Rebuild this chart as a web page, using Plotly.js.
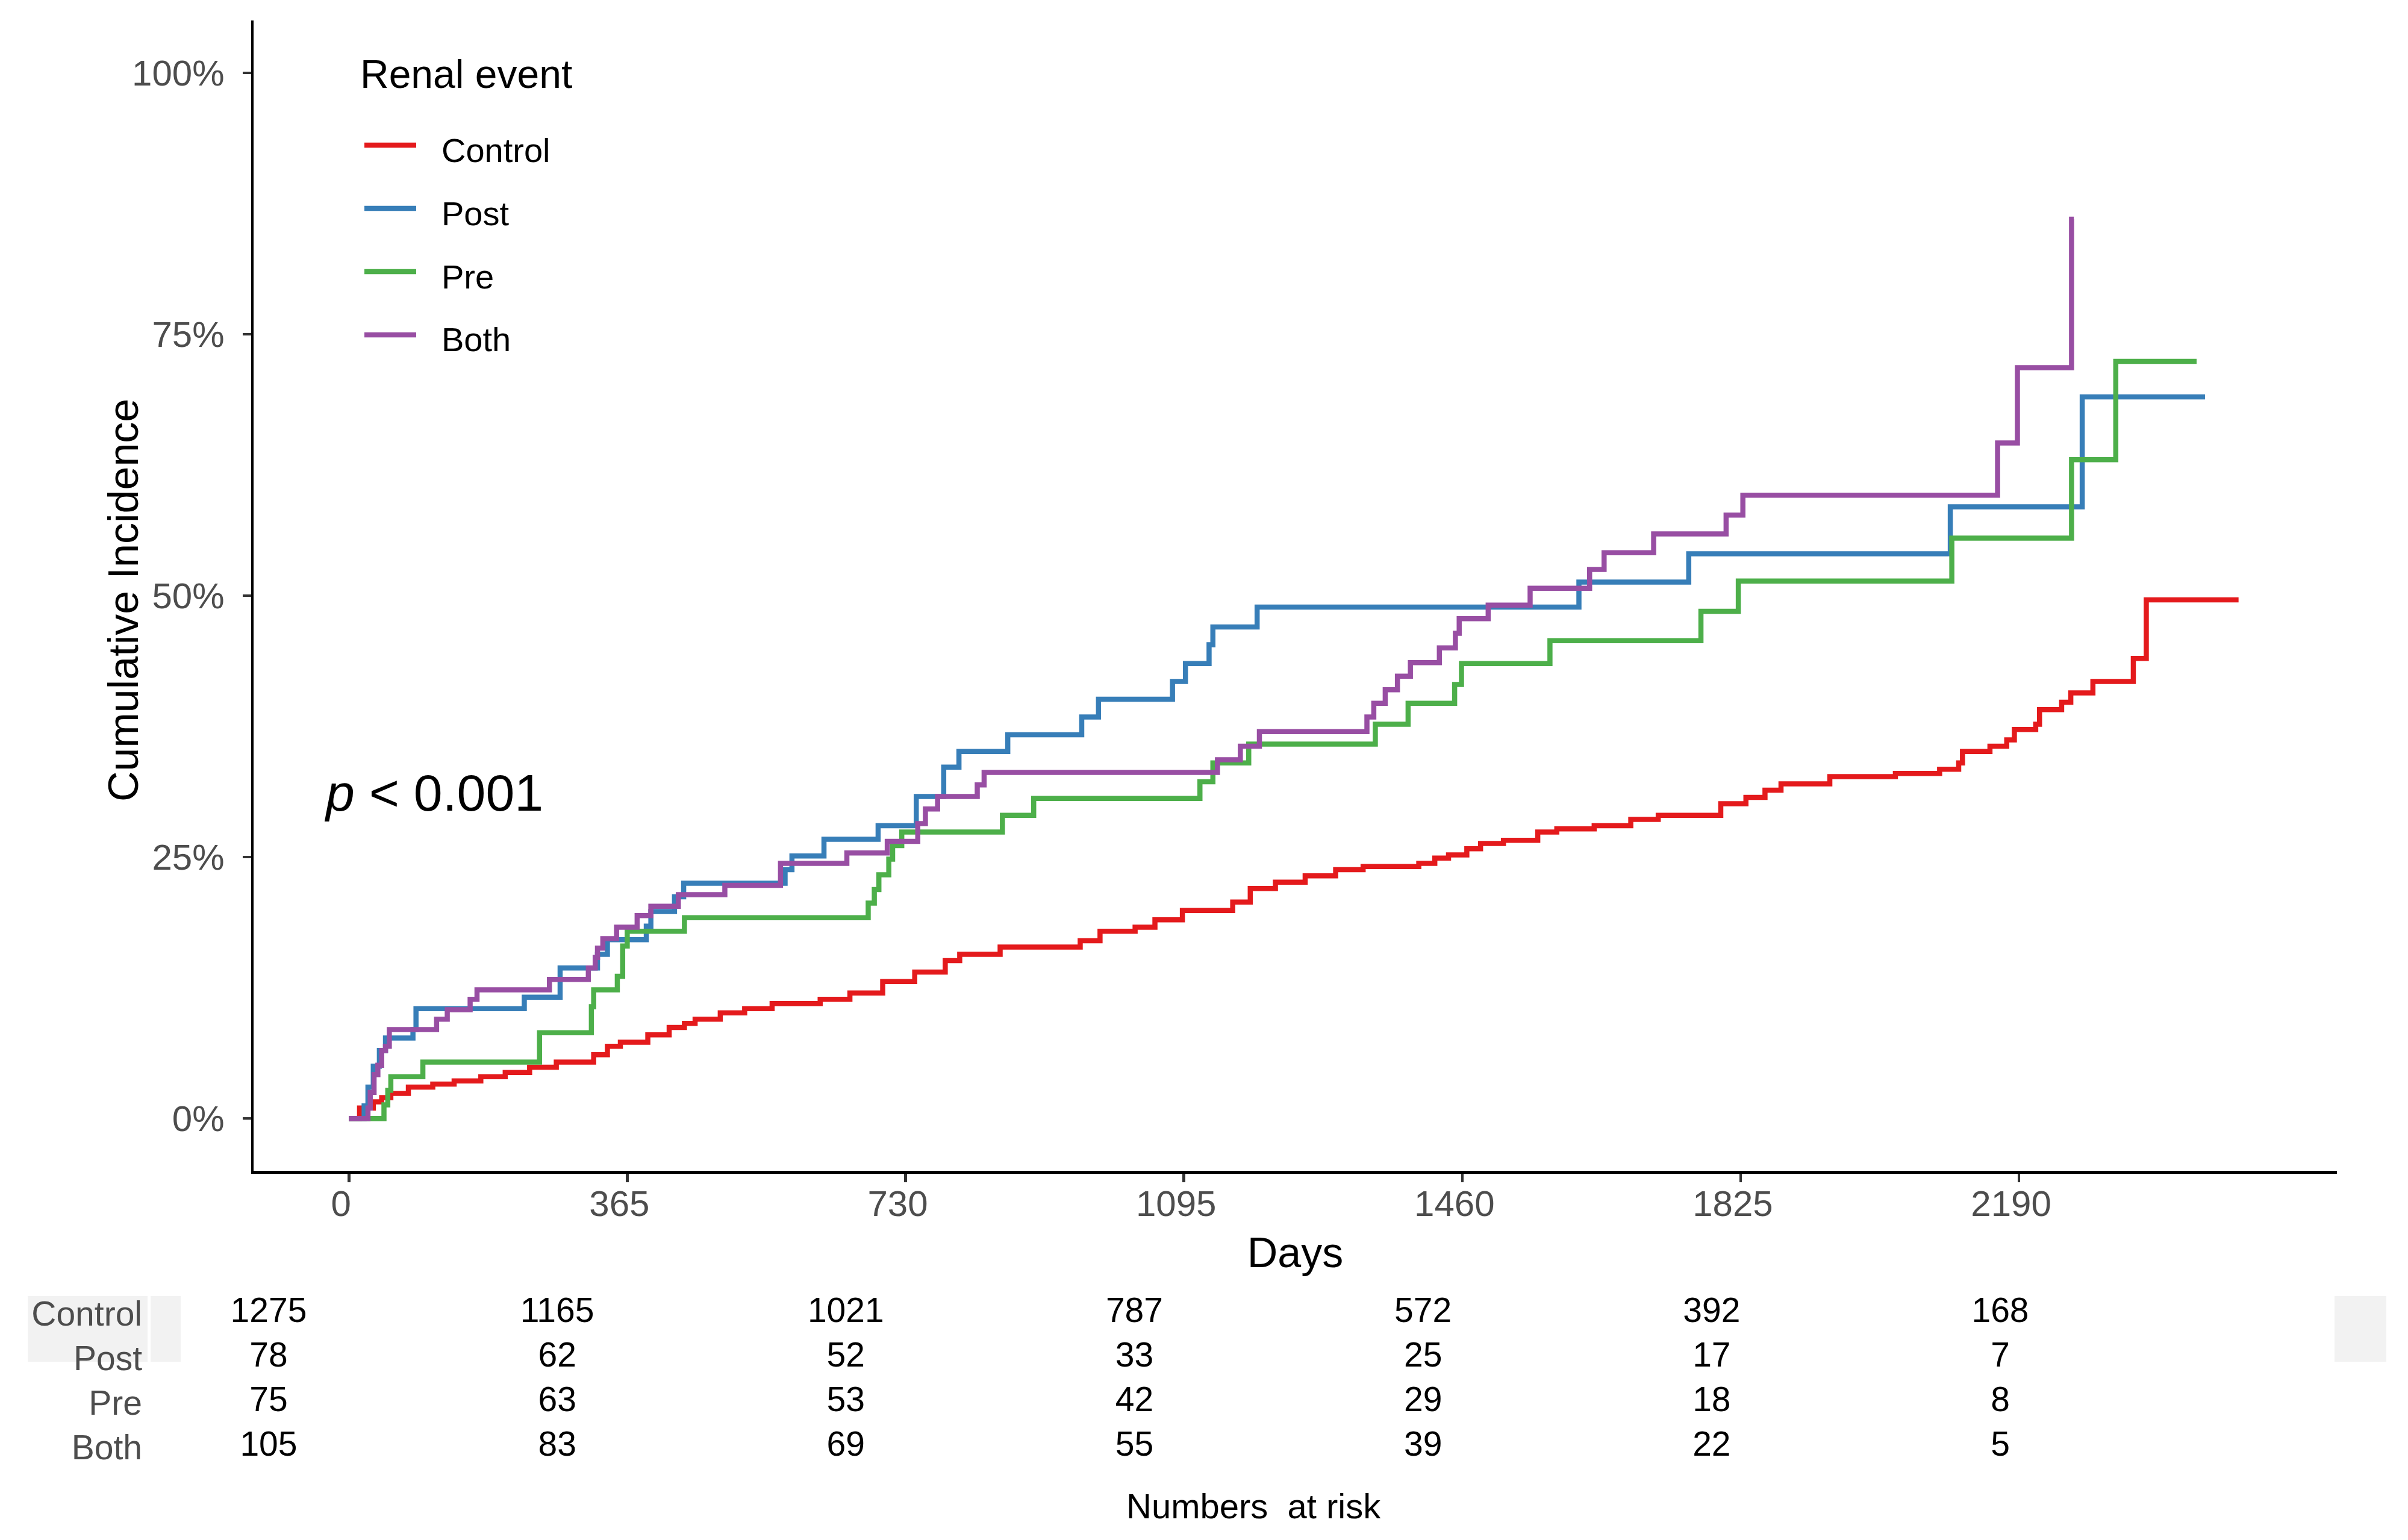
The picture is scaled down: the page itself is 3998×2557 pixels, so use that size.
<!DOCTYPE html>
<html><head><meta charset="utf-8">
<script src="https://cdn.plot.ly/plotly-3.0.1.min.js"></script>
<style>html,body{margin:0;padding:0;background:#fff}#chart{width:3998px;height:2557px}</style>
</head><body><div id="chart"></div>
<script>
// ---------- data ----------
const groups = ['Control', 'Post', 'Pre', 'Both'];
const colors = ['#E41A1C', '#377EB8', '#4DAF4A', '#984EA3'];

const controlDays = [0,14,32,43,55,78,110,138,173,205,237,272,321,339,356,392,420,440,454,487,519,555,618,657,700,742,782,801,854,959,985,1031,1057,1093,1159,1182,1215,1254,1294,1330,1403,1424,1442,1466,1484,1514,1559,1584,1633,1681,1717,1799,1832,1857,1878,1942,2028,2086,2111,2116,2152,2174,2184,2212,2217,2246,2258,2287,2340,2357,2478];
const controlInc = [0,0.010,0.016,0.020,0.024,0.030,0.033,0.036,0.040,0.044,0.049,0.054,0.061,0.069,0.073,0.080,0.087,0.091,0.095,0.101,0.105,0.110,0.114,0.120,0.131,0.140,0.151,0.157,0.164,0.170,0.179,0.183,0.190,0.199,0.207,0.220,0.226,0.232,0.238,0.241,0.244,0.249,0.252,0.258,0.263,0.266,0.274,0.277,0.280,0.286,0.290,0.301,0.307,0.314,0.320,0.327,0.330,0.334,0.340,0.351,0.356,0.362,0.372,0.377,0.391,0.398,0.407,0.418,0.440,0.496,0.496];

const postDays = [0,20,25,32,40,48,84,88,230,277,326,339,390,396,427,439,572,581,623,694,744,780,800,864,961,983,1080,1097,1128,1133,1191,1613,1757,2100,2273,2434];
const postInc = [0,0.012,0.030,0.050,0.065,0.077,0.085,0.105,0.116,0.144,0.157,0.171,0.184,0.198,0.212,0.225,0.238,0.251,0.267,0.280,0.308,0.336,0.351,0.367,0.384,0.401,0.418,0.435,0.453,0.470,0.489,0.513,0.540,0.585,0.690,0.690];

const preDays = [0,46,51,55,97,250,318,321,352,359,365,440,681,689,695,708,713,725,857,898,1116,1133,1180,1346,1389,1450,1459,1575,1773,1822,2102,2259,2317,2423];
const preInc = [0,0.013,0.027,0.040,0.054,0.082,0.107,0.123,0.136,0.165,0.179,0.192,0.206,0.219,0.233,0.248,0.261,0.274,0.290,0.306,0.322,0.340,0.358,0.377,0.397,0.415,0.435,0.457,0.485,0.514,0.555,0.630,0.724,0.724];

const bothDays = [0,25,28,33,38,43,48,53,115,129,159,168,263,314,323,326,333,351,378,396,432,493,566,653,706,746,756,772,824,833,1139,1169,1194,1335,1344,1359,1375,1392,1430,1451,1456,1494,1549,1627,1646,1711,1806,1828,2162,2188,2259,2262];
const bothInc = [0,0.010,0.025,0.042,0.051,0.065,0.069,0.085,0.095,0.104,0.114,0.123,0.133,0.144,0.154,0.163,0.172,0.183,0.194,0.203,0.214,0.223,0.244,0.254,0.265,0.282,0.296,0.308,0.319,0.331,0.343,0.356,0.370,0.384,0.397,0.410,0.423,0.436,0.450,0.464,0.478,0.491,0.507,0.525,0.541,0.559,0.577,0.596,0.646,0.718,0.860,0.860];

const riskTimes = [0, 365, 730, 1095, 1460, 1825, 2190];
const riskControl = [1275, 1165, 1021, 787, 572, 392, 168];
const riskPost = [78, 62, 52, 33, 25, 17, 7];
const riskPre = [75, 63, 53, 42, 29, 18, 8];
const riskBoth = [105, 83, 69, 55, 39, 22, 5];

const xTickVals = [0, 365, 730, 1095, 1460, 1825, 2190];
const yTickVals = [0, 0.25, 0.5, 0.75, 1];
const yTickText = ['0%', '25%', '50%', '75%', '100%'];
const pText = '<i>p</i> &lt; 0.001';
const xTitle = 'Days';
const yTitle = 'Cumulative Incidence';
const legendTitle = 'Renal event';
const tableTitle = 'Numbers&nbsp; at risk';

// ---------- build ----------
const W = 3998, H = 2557;
const px = v => v / W;          // pixel -> paper x
const py = v => 1 - v / H;      // pixel -> paper y
const FONT = '"Liberation Sans", Arial, Helvetica, sans-serif';

const curveDays = [controlDays, postDays, preDays, bothDays];
const curveInc = [controlInc, postInc, preInc, bothInc];
const risk = [riskControl, riskPost, riskPre, riskBoth];
const rowIdx = [3, 2, 1, 0];

const traces = [];
groups.forEach((g, i) => {
  traces.push({
    type: 'scatter', mode: 'lines', name: g,
    x: curveDays[i], y: curveInc[i],
    line: { shape: 'hv', color: colors[i], width: 8.5 },
    xaxis: 'x', yaxis: 'y', hoverinfo: 'skip'
  });
});
groups.forEach((g, i) => {
  traces.push({
    type: 'scatter', mode: 'text', name: g + ' at risk',
    x: riskTimes, y: riskTimes.map(() => rowIdx[i]),
    text: risk[i].map(String),
    textposition: 'middle center',
    textfont: { family: FONT, size: 57, color: '#000000' },
    xaxis: 'x2', yaxis: 'y2', hoverinfo: 'skip', showlegend: false
  });
});

const shapes = [
  { type: 'rect', xref: 'paper', yref: 'paper', x0: px(46), x1: px(245), y0: py(2261), y1: py(2152), fillcolor: '#F2F2F2', line: { width: 0 }, layer: 'below' },
  { type: 'rect', xref: 'paper', yref: 'paper', x0: px(250), x1: px(300), y0: py(2261), y1: py(2152), fillcolor: '#F2F2F2', line: { width: 0 }, layer: 'below' },
  { type: 'rect', xref: 'paper', yref: 'paper', x0: px(3876), x1: px(3962), y0: py(2261), y1: py(2152), fillcolor: '#F2F2F2', line: { width: 0 }, layer: 'below' }
];
const annotations = [
  { xref: 'paper', yref: 'paper', x: px(596), y: py(123), xanchor: 'left', yanchor: 'middle', text: legendTitle, showarrow: false, font: { family: FONT, size: 66, color: '#000' } },
  { xref: 'paper', yref: 'paper', x: px(536), y: py(1316), xanchor: 'left', yanchor: 'middle', text: pText, showarrow: false, font: { family: FONT, size: 86, color: '#000' } },
  { xref: 'paper', yref: 'paper', x: px(205), y: py(997), xanchor: 'center', yanchor: 'middle', textangle: -90, text: yTitle, showarrow: false, font: { family: FONT, size: 70, color: '#000' } },
  { xref: 'paper', yref: 'paper', x: px(2081), y: py(2500), xanchor: 'center', yanchor: 'middle', text: tableTitle, showarrow: false, font: { family: FONT, size: 58, color: '#000' } }
];
const legendRowY = [241, 346, 451, 556];
groups.forEach((g, i) => {
  shapes.push({ type: 'line', xref: 'paper', yref: 'paper', x0: px(605), x1: px(691), y0: py(legendRowY[i]), y1: py(legendRowY[i]), line: { color: colors[i], width: 8.5 } });
  annotations.push({ xref: 'paper', yref: 'paper', x: px(731), y: py(legendRowY[i] + 8), xanchor: 'left', yanchor: 'middle', text: g, showarrow: false, font: { family: FONT, size: 56, color: '#000' } });
});

const axisCommon = {
  showline: true, linecolor: '#000', linewidth: 4.5, mirror: false,
  ticks: 'outside', ticklen: 14, tickwidth: 4.5, tickcolor: '#333',
  showgrid: false, zeroline: false, fixedrange: true,
  tickfont: { family: FONT, size: 60, color: '#4D4D4D' }
};

const layout = {
  width: W, height: H,
  margin: { l: 0, r: 0, t: 0, b: 0, pad: 0 },
  paper_bgcolor: '#fff', plot_bgcolor: '#fff',
  showlegend: false,
  font: { family: FONT, color: '#000' },
  xaxis: Object.assign({}, axisCommon, {
    domain: [px(421), px(3880)], range: [-125, 2607], anchor: 'y',
    tickmode: 'array', tickvals: xTickVals, ticktext: xTickVals.map(String),
    ticklabelstandoff: -16, ticklabelshift: -13,
    title: { text: xTitle, font: { family: FONT, size: 70, color: '#000' }, standoff: 26 }
  }),
  yaxis: Object.assign({}, axisCommon, {
    domain: [py(1944), py(34)], range: [-0.05, 1.05], anchor: 'x',
    tickmode: 'array', tickvals: yTickVals, ticktext: yTickText,
    ticklabelstandoff: 18
  }),
  xaxis2: {
    domain: [px(300), px(3875)], range: [-111.2, 2612], anchor: 'y2',
    showline: false, showgrid: false, zeroline: false, ticks: '', showticklabels: false, fixedrange: true
  },
  yaxis2: {
    domain: [py(2440), py(2144)], range: [-0.5, 3.5], anchor: 'x2',
    showline: false, showgrid: false, zeroline: false, ticks: '', fixedrange: true,
    tickmode: 'array', tickvals: rowIdx, ticktext: groups,
    ticklabelstandoff: 63,
    tickfont: { family: FONT, size: 57, color: '#4D4D4D' }
  },
  shapes: shapes,
  annotations: annotations
};

Plotly.newPlot('chart', traces, layout, { displayModeBar: false, staticPlot: true });
</script>
</body></html>
